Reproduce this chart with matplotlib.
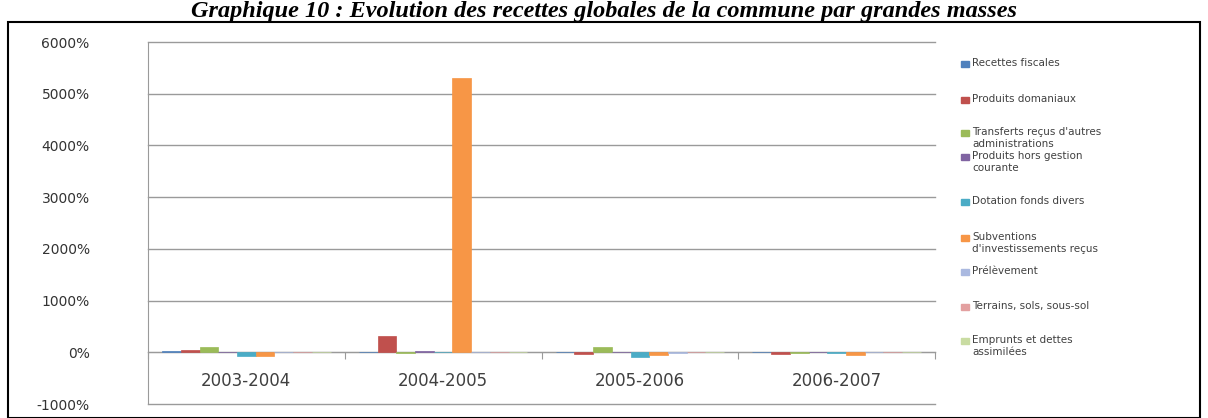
import numpy as np
import matplotlib.pyplot as plt
from matplotlib.patches import Rectangle

# Données (variation en %)
periodes = ["2003-2004", "2004-2005", "2005-2006", "2006-2007"]
series = [
    "Recettes fiscales",
    "Produits domaniaux",
    "Transferts reçus d'autres\nadministrations",
    "Produits hors gestion\ncourante",
    "Dotation fonds divers",
    "Subventions\nd'investissements reçus",
    "Prélèvement",
    "Terrains, sols, sous-sol",
    "Emprunts et dettes\nassimilées",
]
recettes_fiscales = [30, 10, 10, 10]
produits_domaniaux = [40, 320, -40, -40]
transferts = [110, -20, 100, -10]
hors_gestion = [10, 20, 0, 0]
dotation = [-80, 10, -90, -10]
subventions = [-70, 5300, -50, -60]
prelevement = [0, 0, -20, 0]
terrains = [0, 0, 0, 0]
emprunts = [0, 0, 0, 0]
valeurs = [recettes_fiscales, produits_domaniaux, transferts, hors_gestion,
           dotation, subventions, prelevement, terrains, emprunts]

couleurs = ["#4F81BD", "#C0504D", "#9BBB59", "#8064A2", "#4BACC6",
            "#F79646", "#AAB9E0", "#E3A0A0", "#C9DCA2"]

fig = plt.figure(figsize=(12.08, 4.18), dpi=100)
fig.patches.append(Rectangle((8 / 1208, 0), 1192 / 1208, 396 / 418,
                             transform=fig.transFigure, fill=False,
                             edgecolor="black", linewidth=1.5))
fig.text(0.5, 1 - 16.5 / 418, "Graphique 10 : Evolution des recettes globales de la commune par grandes masses",
         ha="center", va="baseline", family="Liberation Serif", style="italic",
         weight="bold", fontsize=17.5)

ax = fig.add_axes([148 / 1208, 14 / 418, 787 / 1208, 362 / 418])
n = len(series)
x = np.arange(len(periodes))
largeur = 1 / (n + 1.5)
for i, (vals, c) in enumerate(zip(valeurs, couleurs)):
    pos = x - 0.5 + 0.75 * largeur + (i + 0.5) * largeur
    ax.bar(pos, vals, width=largeur, color=c, edgecolor=c, linewidth=0.5, zorder=3)

ax.set_xlim(-0.5, len(periodes) - 0.5)
ax.set_ylim(-1000, 6000)
ax.set_yticks(range(-1000, 6001, 1000))
ax.set_yticklabels([f"{v}%" for v in range(-1000, 6001, 1000)], fontsize=10, color="#333333")
ax.tick_params(axis="y", length=0, pad=42)
ax.grid(axis="y", color="#9a9a9a", linewidth=1, zorder=0)
for gl in ax.get_ygridlines():
    gl.set_clip_on(False)
for s in ["top", "right"]:
    ax.spines[s].set_visible(False)
ax.spines["left"].set_color("#9a9a9a")
ax.spines["bottom"].set_position(("data", 0))
ax.spines["bottom"].set_color("#9a9a9a")
ax.set_xticks(np.arange(len(periodes) + 1) - 0.5)
ax.set_xticklabels([])
ax.tick_params(axis="x", length=5, color="#9a9a9a", direction="out")
for xi, p in zip(x, periodes):
    ax.text(xi, -560, p, ha="center", va="center", fontsize=12, color="#404040")

# Légende
y_leg = [64, 100, 133, 157, 202, 238, 272, 307, 341]
for lab, c, yp in zip(series, couleurs, y_leg):
    yf = 1 - yp / 418
    fig.patches.append(Rectangle((961 / 1208, yf - 3 / 418), 8 / 1208, 6 / 418,
                                 transform=fig.transFigure, color=c))
    fig.text(972 / 1208, yf + 6 / 418, lab, ha="left", va="top", fontsize=7.5,
             color="#404040", linespacing=1.3)

fig.savefig("out.png", dpi=100)
